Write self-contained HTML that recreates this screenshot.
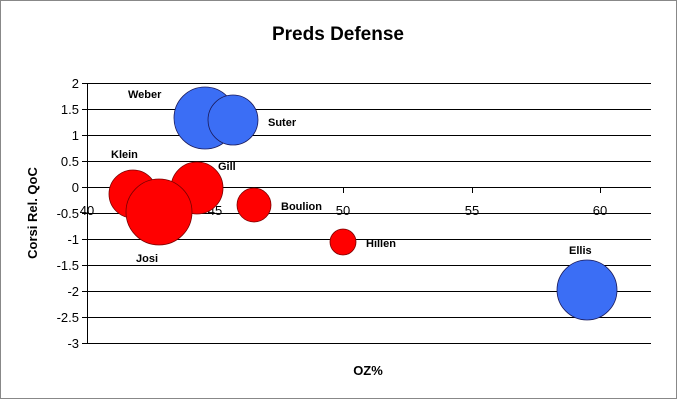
<!DOCTYPE html>
<html><head><meta charset="utf-8"><style>
html,body{margin:0;padding:0;background:#fff;}
svg{display:block;font-family:"Liberation Sans",Arial,sans-serif;}
</style></head><body>
<svg width="677" height="401" viewBox="0 0 677 401" xmlns="http://www.w3.org/2000/svg">
<rect x="0.5" y="0.5" width="676" height="398" fill="#fff" stroke="#888" stroke-width="1"/>
<text x="338" y="40" text-anchor="middle" font-size="19" font-weight="bold">Preds Defense</text>
<g stroke="#000" stroke-width="1" shape-rendering="crispEdges">
<line x1="87" y1="83.5" x2="651" y2="83.5"/>
<line x1="87" y1="109.5" x2="651" y2="109.5"/>
<line x1="87" y1="135.5" x2="651" y2="135.5"/>
<line x1="87" y1="161.5" x2="651" y2="161.5"/>
<line x1="87" y1="187.5" x2="651" y2="187.5"/>
<line x1="87" y1="213.5" x2="651" y2="213.5"/>
<line x1="87" y1="239.5" x2="651" y2="239.5"/>
<line x1="87" y1="265.5" x2="651" y2="265.5"/>
<line x1="87" y1="291.5" x2="651" y2="291.5"/>
<line x1="87" y1="317.5" x2="651" y2="317.5"/>
<line x1="87" y1="343.5" x2="651" y2="343.5"/>
<line x1="87.5" y1="83" x2="87.5" y2="344"/>
<line x1="82" y1="83.5" x2="87" y2="83.5"/><line x1="82" y1="109.5" x2="87" y2="109.5"/><line x1="82" y1="135.5" x2="87" y2="135.5"/><line x1="82" y1="161.5" x2="87" y2="161.5"/><line x1="82" y1="187.5" x2="87" y2="187.5"/><line x1="82" y1="213.5" x2="87" y2="213.5"/><line x1="82" y1="239.5" x2="87" y2="239.5"/><line x1="82" y1="265.5" x2="87" y2="265.5"/><line x1="82" y1="291.5" x2="87" y2="291.5"/><line x1="82" y1="317.5" x2="87" y2="317.5"/><line x1="82" y1="343.5" x2="87" y2="343.5"/>
<line x1="215.5" y1="187" x2="215.5" y2="193"/><line x1="343.5" y1="187" x2="343.5" y2="193"/><line x1="472.5" y1="187" x2="472.5" y2="193"/><line x1="600.5" y1="187" x2="600.5" y2="193"/>
</g>
<g font-size="13" text-anchor="end" fill="#000">
<text x="79" y="88">2</text><text x="79" y="114">1.5</text><text x="79" y="140">1</text><text x="79" y="166">0.5</text><text x="79" y="192">0</text><text x="79" y="218">-0.5</text><text x="79" y="244">-1</text><text x="79" y="270">-1.5</text><text x="79" y="296">-2</text><text x="79" y="322">-2.5</text><text x="79" y="348">-3</text>
</g>
<g font-size="13" text-anchor="middle" fill="#000">
<text x="87" y="215">40</text><text x="215" y="215">45</text><text x="343" y="215">50</text><text x="472" y="215">55</text><text x="600" y="215">60</text>
</g>
<text x="368" y="375" text-anchor="middle" font-size="13" font-weight="bold">OZ%</text>
<text transform="translate(37,213) rotate(-90)" text-anchor="middle" font-size="13" font-weight="bold">Corsi Rel. QoC</text>
<g stroke="#1a1a5a" stroke-width="0.8">
<circle cx="205" cy="118" r="31" fill="#3b6ef5"/>
<circle cx="233" cy="120" r="25" fill="#3b6ef5"/>
<circle cx="587" cy="290" r="30" fill="#3b6ef5"/>
</g>
<g stroke="#7a0000" stroke-width="0.8" fill="#ff0000">
<circle cx="133" cy="194" r="24"/>
<circle cx="197" cy="188" r="26"/>
<circle cx="159" cy="212" r="33"/>
<circle cx="254" cy="205" r="17"/>
<circle cx="343" cy="242" r="13"/>
</g>
<g font-size="11" font-weight="bold" fill="#000">
<text x="128" y="98">Weber</text>
<text x="268" y="126">Suter</text>
<text x="111" y="158">Klein</text>
<text x="218" y="170">Gill</text>
<text x="136" y="262">Josi</text>
<text x="281" y="210">Boulion</text>
<text x="366" y="247">Hillen</text>
<text x="569" y="254">Ellis</text>
</g>
</svg>
</body></html>
